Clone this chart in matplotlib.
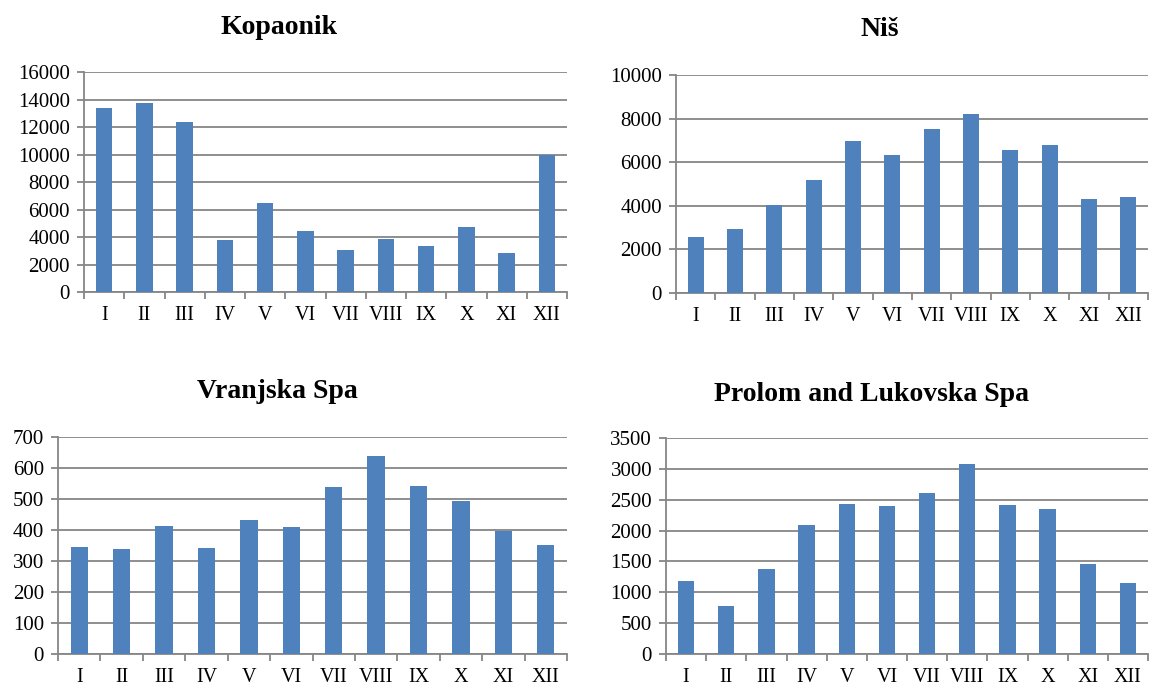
import numpy as np
import matplotlib.pyplot as plt

months = ['I', 'II', 'III', 'IV', 'V', 'VI', 'VII', 'VIII', 'IX', 'X', 'XI', 'XII']

kopaonik = [13370, 13740, 12330, 3800, 6500, 4430, 3090, 3850, 3310, 4700, 2830, 9960]
nis = [2570, 2920, 4020, 5180, 6970, 6320, 7520, 8230, 6580, 6790, 4300, 4400]
vranjska = [345, 339, 414, 341, 431, 410, 540, 638, 541, 492, 396, 352]
prolom = [1177, 776, 1375, 2092, 2435, 2403, 2606, 3077, 2413, 2354, 1456, 1151]

plt.rcParams['font.family'] = ['Liberation Serif', 'DejaVu Serif']

fig = plt.figure(figsize=(11.52, 6.91), dpi=100)
W, H = 1152, 691

# axes boxes in pixels: left, top, right, bottom; then title centre
panels = [
    ('Kopaonik', kopaonik, 16000, 2000, (84, 72, 567, 292), (279, 27)),
    ('Niš', nis, 10000, 2000, (676, 75, 1148, 293), (880, 30)),
    ('Vranjska Spa', vranjska, 700, 100, (58, 437, 567, 654), (277, 392)),
    ('Prolom and Lukovska Spa', prolom, 3500, 500, (666, 438, 1148, 654), (872, 394)),
]

grid_col = '#868686'
x = np.arange(len(months))

for title, vals, ymax, step, (l, t, r, b), (tx, ty) in panels:
    ax = fig.add_axes([l / W, 1 - b / H, (r - l) / W, (b - t) / H])
    ax.bar(x, vals, width=0.41, color='#4F81BD', zorder=3)
    ax.set_xlim(-0.5, 11.5)
    ax.set_ylim(0, ymax)
    ax.set_yticks(np.arange(0, ymax + 1, step))
    ax.yaxis.grid(True, color=grid_col, linewidth=1.3, zorder=0)
    ax.set_xticks(x, months)
    ax.set_xticks(np.arange(-0.5, 12, 1), minor=True)
    ax.tick_params(axis='x', which='major', length=0, pad=10, labelsize=14.5)
    ax.tick_params(axis='x', which='minor', length=5, color=grid_col, width=1.3)
    ax.tick_params(axis='y', length=5, color=grid_col, width=1.3, labelsize=15, pad=5)
    for s in ['top', 'right']:
        ax.spines[s].set_visible(False)
    for s in ['left', 'bottom']:
        ax.spines[s].set_color(grid_col)
        ax.spines[s].set_linewidth(1.3)
    fig.text(tx / W, 1 - ty / H, title, fontsize=20, fontweight='bold',
             ha='center', va='center')

fig.savefig('out.png', dpi=100, facecolor='white')
